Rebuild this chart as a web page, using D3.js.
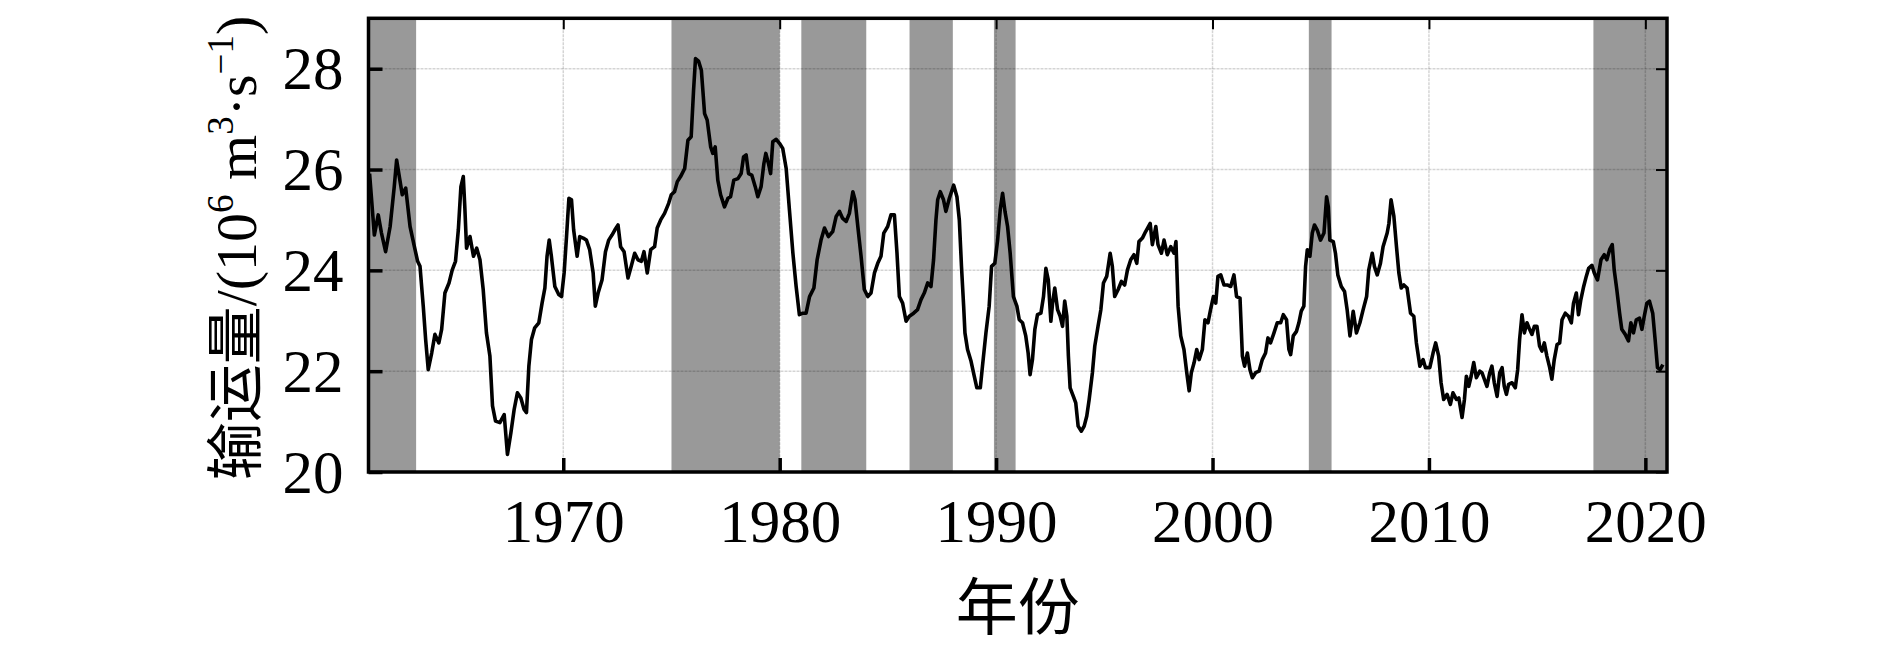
<!DOCTYPE html>
<html><head><meta charset="utf-8">
<script src="https://cdn.jsdelivr.net/npm/d3@7/dist/d3.min.js"></script>
<style>body{margin:0;background:#fff}svg{display:block}</style>
</head><body><svg id="c" width="1890" height="645"></svg>
<script>
const years = [1961.05,1961.27,1961.45,1961.60,1961.79,1962.00,1962.19,1962.30,1962.45,1962.56,1962.72,1962.92,1963.12,1963.27,1963.38,1963.53,1963.64,1963.76,1963.92,1964.07,1964.25,1964.38,1964.53,1964.72,1964.87,1965.02,1965.15,1965.27,1965.38,1965.45,1965.53,1965.69,1965.85,1966.00,1966.15,1966.30,1966.45,1966.61,1966.73,1966.87,1967.07,1967.27,1967.42,1967.58,1967.73,1967.88,1968.04,1968.19,1968.30,1968.41,1968.53,1968.68,1968.87,1969.02,1969.15,1969.25,1969.35,1969.45,1969.61,1969.79,1969.92,1970.04,1970.15,1970.26,1970.38,1970.48,1970.64,1970.76,1970.92,1971.07,1971.22,1971.38,1971.48,1971.61,1971.79,1971.95,1972.10,1972.25,1972.38,1972.53,1972.65,1972.81,
1972.99,1973.14,1973.30,1973.45,1973.61,1973.73,1973.88,1974.04,1974.22,1974.34,1974.50,1974.68,1974.87,1974.99,1975.14,1975.27,1975.42,1975.61,1975.76,1975.91,1976.02,1976.11,1976.25,1976.38,1976.53,1976.65,1976.81,1976.91,1977.02,1977.14,1977.27,1977.45,1977.61,1977.73,1977.88,1978.07,1978.22,1978.33,1978.45,1978.56,1978.71,1978.87,1978.99,1979.14,1979.27,1979.36,1979.48,1979.58,1979.68,1979.84,1979.99,1980.14,1980.30,1980.45,1980.61,1980.76,1980.91,1981.07,1981.22,1981.38,1981.58,1981.73,1981.91,1982.07,1982.25,1982.45,1982.61,1982.76,1982.91,1983.07,1983.22,1983.38,1983.48,1983.61,1983.76,1983.91,1984.07,1984.22,1984.38,1984.53,1984.68,1984.81,
1984.99,1985.14,1985.30,1985.42,1985.53,1985.68,1985.84,1985.99,1986.19,1986.37,1986.53,1986.68,1986.84,1986.99,1987.11,1987.22,1987.30,1987.42,1987.57,1987.68,1987.84,1988.04,1988.19,1988.30,1988.40,1988.50,1988.56,1988.68,1988.84,1988.99,1989.11,1989.27,1989.37,1989.53,1989.68,1989.79,1989.94,1990.07,1990.19,1990.30,1990.41,1990.53,1990.65,1990.80,1990.96,1991.07,1991.22,1991.37,1991.48,1991.57,1991.68,1991.79,1991.91,1992.07,1992.19,1992.30,1992.41,1992.53,1992.61,1992.71,1992.84,1992.96,1993.07,1993.17,1993.27,1993.34,1993.42,1993.57,1993.68,1993.79,1993.94,1994.07,1994.19,1994.30,1994.45,1994.56,1994.71,1994.84,1994.96,1995.11,1995.27,1995.37,1995.48,1995.64,1995.79,1995.94,1996.07,1996.22,1996.37,1996.50,1996.60,1996.76,1996.91,
1997.12,1997.22,1997.38,1997.48,1997.64,1997.76,1997.91,1998.07,1998.22,1998.31,1998.41,1998.53,1998.68,1998.81,1998.92,1999.02,1999.15,1999.27,1999.38,1999.53,1999.65,1999.79,1999.91,2000.04,2000.15,2000.25,2000.38,2000.53,2000.68,2000.84,2000.99,2001.11,2001.27,2001.38,2001.48,2001.61,2001.73,2001.84,2001.99,2002.15,2002.30,2002.45,2002.56,2002.68,2002.84,2002.99,2003.15,2003.27,2003.42,2003.53,2003.61,2003.73,2003.88,2003.99,2004.10,2004.22,2004.30,2004.38,2004.50,2004.61,2004.71,2004.84,2004.99,2005.15,2005.27,2005.35,2005.42,2005.58,2005.68,2005.79,2005.95,2006.10,2006.22,2006.35,2006.50,2006.65,2006.81,2006.96,2007.12,2007.22,2007.38,2007.48,2007.61,2007.76,2007.88,2008.07,2008.15,2008.25,2008.38,2008.50,2008.61,2008.72,2008.84,2008.99,
2009.15,2009.30,2009.42,2009.58,2009.73,2009.84,2010.04,2010.19,2010.31,2010.45,2010.56,2010.68,2010.84,2010.99,2011.11,2011.27,2011.38,2011.53,2011.64,2011.73,2011.84,2011.95,2012.07,2012.19,2012.35,2012.45,2012.56,2012.68,2012.81,2012.91,2013.02,2013.15,2013.27,2013.38,2013.48,2013.58,2013.68,2013.84,2013.99,2014.10,2014.19,2014.30,2014.41,2014.53,2014.65,2014.76,2014.87,2014.99,2015.11,2015.22,2015.33,2015.45,2015.58,2015.68,2015.79,2015.92,2016.04,2016.15,2016.30,2016.45,2016.58,2016.68,2016.81,2016.91,2017.02,2017.15,2017.27,2017.38,2017.53,2017.64,2017.79,2017.95,2018.10,2018.22,2018.35,2018.47,2018.56,2018.68,2018.81,2018.91,2019.07,2019.22,2019.33,2019.45,2019.58,2019.73,2019.84,2019.95,2020.07,2020.19,2020.34,2020.45,2020.56,2020.68,2020.81];
const transport = [25.92,24.70,25.10,24.74,24.37,24.87,25.66,26.19,25.79,25.50,25.63,24.87,24.47,24.18,24.08,23.29,22.63,22.03,22.36,22.73,22.56,22.83,23.55,23.75,24.01,24.18,24.80,25.66,25.86,25.26,24.44,24.67,24.28,24.44,24.21,23.62,22.76,22.30,21.31,21.01,20.98,21.14,20.35,20.78,21.24,21.57,21.47,21.24,21.18,22.10,22.63,22.86,22.96,23.35,23.65,24.28,24.60,24.28,23.68,23.52,23.48,23.95,24.67,25.43,25.40,24.80,24.28,24.67,24.64,24.60,24.41,23.95,23.29,23.55,23.81,24.37,24.60,24.70,24.80,24.90,24.47,24.37,
23.85,24.08,24.34,24.21,24.18,24.37,23.95,24.41,24.47,24.84,25.00,25.13,25.33,25.50,25.56,25.76,25.86,26.02,26.58,26.65,27.57,28.20,28.15,27.97,27.11,26.98,26.45,26.32,26.45,25.79,25.50,25.26,25.43,25.46,25.79,25.82,25.92,26.25,26.29,25.92,25.89,25.66,25.46,25.66,26.12,26.32,26.12,25.92,26.55,26.60,26.52,26.42,26.02,25.20,24.34,23.68,23.12,23.15,23.15,23.48,23.65,24.21,24.60,24.84,24.67,24.77,25.07,25.17,25.03,24.97,25.13,25.56,25.40,24.87,24.28,23.62,23.48,23.55,23.95,24.14,24.28,24.74,
24.87,25.10,25.10,24.34,23.48,23.35,22.99,23.09,23.15,23.22,23.42,23.55,23.75,23.68,24.21,25.00,25.40,25.56,25.40,25.17,25.43,25.69,25.46,25.00,24.08,23.29,22.76,22.43,22.20,21.90,21.67,21.67,22.10,22.76,23.29,24.08,24.14,24.60,25.20,25.53,25.17,24.87,24.34,23.48,23.29,23.02,22.96,22.70,22.36,21.93,22.23,22.83,23.12,23.15,23.48,24.04,23.81,22.99,23.35,23.65,23.22,23.09,22.89,23.39,23.09,22.30,21.67,21.50,21.37,20.91,20.81,20.91,21.11,21.44,21.97,22.50,22.89,23.22,23.75,23.88,24.34,24.08,23.48,23.62,23.78,23.71,24.01,24.21,24.31,24.14,24.57,24.64,24.77,
24.93,24.51,24.87,24.51,24.34,24.60,24.31,24.47,24.34,24.57,23.29,22.70,22.43,21.97,21.61,21.97,22.17,22.43,22.23,22.43,23.02,22.96,23.22,23.48,23.35,23.88,23.91,23.71,23.71,23.68,23.91,23.48,23.45,22.30,22.10,22.36,22.03,21.87,21.97,22.00,22.23,22.36,22.66,22.56,22.76,22.96,22.96,23.12,23.02,22.43,22.33,22.70,22.79,22.96,23.19,23.29,24.08,24.41,24.28,24.74,24.90,24.80,24.60,24.74,25.46,25.26,24.60,24.57,24.34,23.91,23.68,23.58,23.22,22.70,23.19,22.76,22.96,23.22,23.48,24.01,24.34,24.08,23.91,24.14,24.47,24.74,24.93,25.40,25.07,24.47,23.95,23.65,23.71,23.65,
23.15,23.09,22.56,22.10,22.23,22.07,22.07,22.36,22.56,22.30,21.77,21.44,21.54,21.34,21.57,21.44,21.47,21.08,21.44,21.90,21.70,21.90,22.17,21.87,22.00,21.97,21.84,21.70,21.97,22.10,21.77,21.50,21.97,22.07,21.70,21.54,21.74,21.77,21.67,22.03,22.63,23.12,22.76,22.96,22.83,22.73,22.89,22.89,22.50,22.40,22.56,22.30,22.07,21.84,22.23,22.53,22.56,23.02,23.15,23.09,22.96,23.35,23.55,23.12,23.42,23.68,23.88,24.04,24.10,23.95,23.81,24.21,24.31,24.21,24.41,24.51,24.01,23.62,23.15,22.83,22.73,22.60,22.96,22.76,23.02,23.05,22.83,23.09,23.35,23.39,23.15,22.63,22.07,22.03,22.13];
const shadeStart = [1961, 1975, 1981, 1986, 1989.9, 2004.45, 2017.6];
const shadeEnd   = [1963.2, 1980, 1984, 1988, 1990.9, 2005.5, 2021];
const xTicks = [1970, 1980, 1990, 2000, 2010, 2020];
const yTicks = [20, 22, 24, 26, 28];
const xTitle = "年份";

const L = 368.5, R = 1667, T = 18.3, B = 472;
const x = d3.scaleLinear().domain([1961, 2021]).range([L, R]);
const y = d3.scaleLinear().domain([20, 29]).range([B, T]);
const svg = d3.select("#c");
const serif = "'Liberation Serif','Times New Roman',serif";

// shaded periods
svg.append("g").selectAll("rect").data(shadeStart).join("rect")
  .attr("x", (d) => x(d)).attr("y", T)
  .attr("width", (d, i) => x(shadeEnd[i]) - x(d)).attr("height", B - T)
  .attr("fill", "#999999");

// gridlines
const grid = svg.append("g").attr("stroke", "rgba(0,0,0,0.17)").attr("stroke-width", 1.5)
  .attr("stroke-dasharray", "3,1");
grid.selectAll(".gy").data(yTicks.filter(v => v > 20)).join("line")
  .attr("x1", L).attr("x2", R).attr("y1", d => y(d)).attr("y2", d => y(d));
grid.selectAll(".gx").data(xTicks).join("line")
  .attr("y1", T).attr("y2", B).attr("x1", d => x(d)).attr("x2", d => x(d));

// line
svg.append("defs").append("clipPath").attr("id", "clip").append("rect")
  .attr("x", L).attr("y", T).attr("width", R - L).attr("height", B - T);
const pts = years.map((d, i) => [d, transport[i]]);
svg.append("path").datum(pts).attr("clip-path", "url(#clip)")
  .attr("fill", "none").attr("stroke", "#000").attr("stroke-width", 3.6)
  .attr("stroke-linejoin", "round")
  .attr("d", d3.line().x(d => x(d[0])).y(d => y(d[1])));

// axes
function styleAxis(g, w) {
  g.select(".domain").remove();
  g.selectAll(".tick line").attr("stroke", "#000").attr("stroke-width", w);
  g.selectAll(".tick text").attr("fill", "#000").style("font-family", serif).style("font-size", "61px");
}
svg.append("g").attr("transform", `translate(0,${B})`)
  .call(d3.axisBottom(x).tickValues(xTicks).tickFormat(d3.format("d")).tickSizeInner(-14).tickSizeOuter(0).tickPadding(27))
  .call(g => styleAxis(g, 3.5));
svg.append("g").attr("transform", `translate(${L},0)`)
  .call(d3.axisLeft(y).tickValues(yTicks).tickFormat(d3.format("d")).tickSizeInner(-14).tickSizeOuter(0).tickPadding(25))
  .call(g => styleAxis(g, 3.5))
  .call(g => g.selectAll(".tick text").attr("dy", "0.33em"));
svg.append("g").attr("transform", `translate(0,${T})`)
  .call(d3.axisTop(x).tickValues(xTicks).tickFormat("").tickSizeInner(-11).tickSizeOuter(0))
  .call(g => styleAxis(g, 2));
svg.append("g").attr("transform", `translate(${R},0)`)
  .call(d3.axisRight(y).tickValues(yTicks).tickFormat("").tickSizeInner(-11).tickSizeOuter(0))
  .call(g => styleAxis(g, 2));

// frame
svg.append("rect").attr("x", L).attr("y", T).attr("width", R - L).attr("height", B - T)
  .attr("fill", "none").attr("stroke", "#000").attr("stroke-width", 3.5);

// titles
svg.append("text").attr("x", (L + R) / 2).attr("y", 630).attr("text-anchor", "middle")
  .style("font-family", "'Noto Sans CJK SC'").style("font-size", "62px").attr("fill", "#000")
  .text(xTitle);

const yt = svg.append("text").attr("transform", "translate(256,248) rotate(-90)")
  .attr("text-anchor", "middle").attr("fill", "#000")
  .style("font-family", serif).style("font-size", "58px");
yt.append("tspan").style("font-family", "'Noto Sans CJK SC'").text("输运量");
yt.append("tspan").text("/(10");
yt.append("tspan").attr("dy", -23).style("font-size", "37px").text("6");
yt.append("tspan").attr("dy", 23).text("\u00a0m");
yt.append("tspan").attr("dy", -23).style("font-size", "37px").text("3");
yt.append("tspan").attr("dy", 23).text("·s");
yt.append("tspan").attr("dy", -23).style("font-size", "37px").text("\u22121");
yt.append("tspan").attr("dy", 23).text(")");
</script></body></html>
